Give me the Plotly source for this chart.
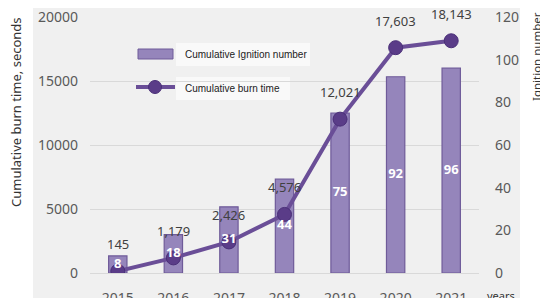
import plotly.graph_objects as go

years = ["2015", "2016", "2017", "2018", "2019", "2020", "2021"]
ignition_number = [8, 18, 31, 44, 75, 92, 96]
burn_time = [145, 1179, 2426, 4576, 12021, 17603, 18143]
burn_labels = ["145", "1,179", "2,426", "4,576", "12,021", "17,603", "18,143"]

xpos = list(range(len(years)))

# the page body has an 8px margin, so figure coords = window coords - 8
OFF = 8
W, H = 548, 298
L, T = 90 - OFF, 17 - OFF
R = W - (479 - OFF)
B = H - (273 - OFF)
PW, PH = W - L - R, H - T - B


def px(x):
    return (x - OFF - L) / PW


def py(y):
    return (H - B - (y - OFF)) / PH


FONT = "Noto Sans"
BAR_COLOR = "#9585bb"
BAR_EDGE = "#6f5b99"
LINE_COLOR = "#6a4e97"
MARK_COLOR = "#5a3c88"

fig = go.Figure()

fig.add_trace(go.Bar(
    x=xpos, y=ignition_number, yaxis="y", width=0.33,
    marker=dict(color=BAR_COLOR, line=dict(color=BAR_EDGE, width=1.2)),
    showlegend=False,
))

fig.add_trace(go.Scatter(
    x=xpos, y=burn_time, yaxis="y2", mode="lines+markers",
    line=dict(color=LINE_COLOR, width=4),
    marker=dict(size=14, color=MARK_COLOR, line=dict(color="#4a2f78", width=1)),
    showlegend=False,
))

# bar value labels, centred in each bar, drawn above the line
fig.add_trace(go.Scatter(
    x=xpos, y=[v / 2 for v in ignition_number], yaxis="y3", mode="text",
    text=[f"<b>{v}</b>" for v in ignition_number],
    textposition="middle center",
    textfont=dict(color="white", size=13, family=FONT),
    showlegend=False, hoverinfo="skip",
))

annotations = []
for xv, yv, lab in zip(xpos, burn_time, burn_labels):
    annotations.append(dict(
        x=xv, y=yv, xref="x", yref="y2", text=lab, showarrow=False,
        yanchor="bottom", yshift=16,
        font=dict(family=FONT, size=13, color="#404040"),
    ))

# axis titles
annotations.append(dict(
    x=px(16), y=py(112), xref="paper", yref="paper",
    xanchor="center", yanchor="middle",
    text="Cumulative burn time, seconds", textangle=-90, showarrow=False,
    font=dict(family=FONT, size=13, color="#333333"),
))
annotations.append(dict(
    x=px(536), y=py(57), xref="paper", yref="paper",
    xanchor="center", yanchor="middle",
    text="Ignition number", textangle=-90, showarrow=False,
    font=dict(family=FONT, size=11.5, color="#333333"),
))
annotations.append(dict(
    x=px(501), y=py(295), xref="paper", yref="paper",
    xanchor="center", yanchor="middle",
    text="years", showarrow=False,
    font=dict(family=FONT, size=11, color="#333333"),
))

# legend
annotations.append(dict(
    x=px(183), y=py(54), xref="paper", yref="paper",
    xanchor="left", yanchor="middle",
    text="Cumulative Ignition number", showarrow=False,
    font=dict(family="Liberation Sans", size=10, color="#222222"),
))
annotations.append(dict(
    x=px(183), y=py(88), xref="paper", yref="paper",
    xanchor="left", yanchor="middle",
    text="Cumulative burn time", showarrow=False,
    font=dict(family="Liberation Sans", size=10, color="#222222"),
))

shapes = [
    dict(type="rect", xref="paper", yref="paper", layer="below",
         x0=px(33), x1=px(520), y0=py(310), y1=py(0),
         fillcolor="#f0f0f0", line=dict(width=0)),
    dict(type="rect", xref="paper", yref="paper", layer="below",
         x0=px(176), x1=px(310), y0=py(66), y1=py(43),
         fillcolor="rgba(255,255,255,0.6)", line=dict(width=0)),
    dict(type="rect", xref="paper", yref="paper", layer="below",
         x0=px(176), x1=px(290), y0=py(100), y1=py(77),
         fillcolor="rgba(255,255,255,0.6)", line=dict(width=0)),
    dict(type="rect", xref="paper", yref="paper",
         x0=px(138), x1=px(173), y0=py(59), y1=py(49),
         fillcolor=BAR_COLOR, line=dict(color=BAR_EDGE, width=1)),
    dict(type="line", xref="paper", yref="paper",
         x0=px(136), x1=px(175), y0=py(87), y1=py(87),
         line=dict(color=LINE_COLOR, width=4)),
    dict(type="circle", xref="paper", yref="paper",
         x0=px(148.5), x1=px(161.5), y0=py(93.5), y1=py(80.5),
         fillcolor=MARK_COLOR, line=dict(color="#4a2f78", width=1)),
]

fig.update_layout(
    width=W, height=H,
    margin=dict(l=L, r=R, t=T, b=B),
    paper_bgcolor="white",
    plot_bgcolor="rgba(0,0,0,0)",
    font=dict(family=FONT, color="#595959", size=14),
    xaxis=dict(range=[-0.5, len(years) - 0.5], tickmode="array",
               tickvals=xpos, ticktext=years, automargin=False,
               showgrid=False, zeroline=False, showline=False,
               ticks="", ticklabelstandoff=15, ticklabeloverflow="allow",
               tickfont=dict(size=14, color="#595959")),
    yaxis=dict(side="right", range=[0, 120], dtick=20, showgrid=False,
               zeroline=False, showline=False, ticks="", ticklabelstandoff=15,
               tickformat="d", automargin=False, ticklabeloverflow="allow",
               tickfont=dict(size=14, color="#595959")),
    yaxis2=dict(side="left", overlaying="y", range=[0, 20000], dtick=5000,
                showgrid=True, gridcolor="#d9d9d9", gridwidth=1,
                zeroline=True, zerolinecolor="#d9d9d9", zerolinewidth=1,
                showline=False, ticks="", ticklabelstandoff=11,
                tickformat="d", automargin=False, ticklabeloverflow="allow",
                tickfont=dict(size=14, color="#595959")),
    yaxis3=dict(overlaying="y", range=[0, 120], visible=False,
                automargin=False),
    shapes=shapes,
    annotations=annotations,
    showlegend=False,
)

fig.write_html("out.html")
